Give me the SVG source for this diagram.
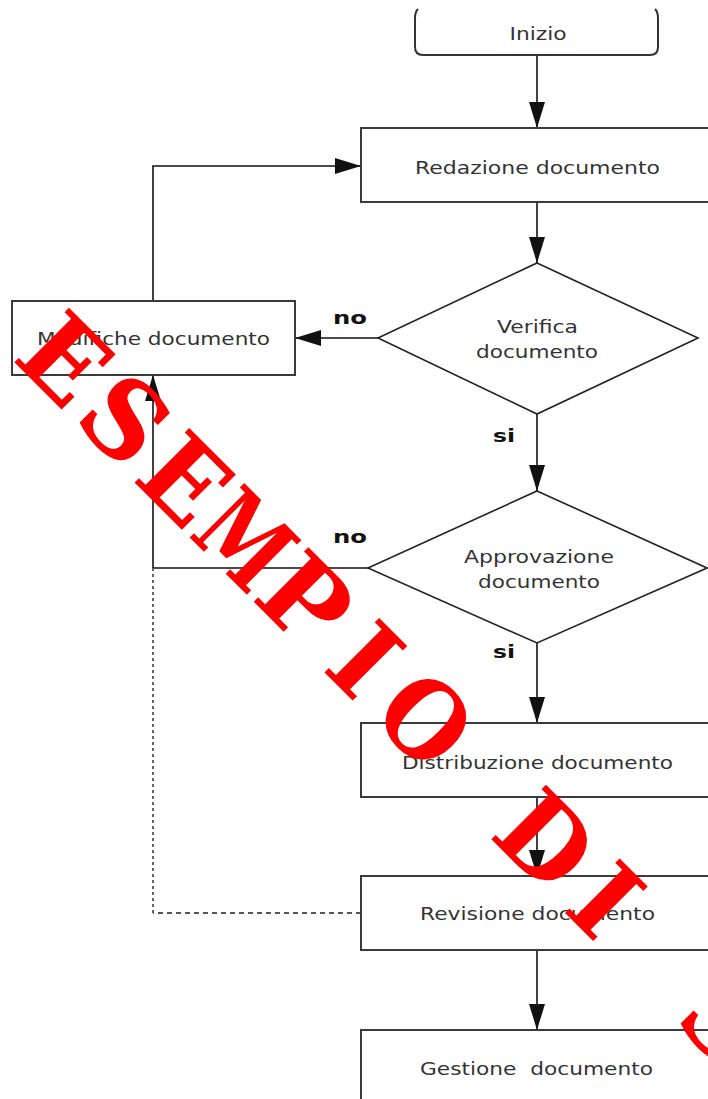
<svg xmlns="http://www.w3.org/2000/svg" width="708" height="1099" viewBox="0 0 708 1099">
<style>
.box{fill:#fff;stroke:#3a3a3a;stroke-width:2}
.dia{fill:#fff;stroke:#222;stroke-width:1.6}
.ln{fill:none;stroke:#111;stroke-width:1.6}
.dash{fill:none;stroke:#555;stroke-width:1.8}
.t{font-family:"DejaVu Sans",Verdana,sans-serif;font-size:17px;fill:#333;text-anchor:middle;white-space:pre}
.lb{font-family:"DejaVu Sans",Verdana,sans-serif;font-size:18px;font-weight:bold;fill:#111;text-anchor:middle}
.wm{font-family:"DejaVu Serif","Liberation Serif",serif;font-size:106px;font-weight:bold;fill:#ff0000;text-anchor:middle}
</style>
<defs>
<marker id="ah" markerUnits="userSpaceOnUse" viewBox="0 0 26 16" refX="26" refY="8" markerWidth="26" markerHeight="16" orient="auto">
<path d="M0,0 L26,8 L0,16 Z" fill="#111"/>
</marker>
</defs>
<rect width="708" height="1099" fill="#fff"/>

<g id="connectors">
<line class="ln" x1="537" y1="55" x2="537" y2="128" marker-end="url(#ah)"/>
<line class="ln" x1="537" y1="202" x2="537" y2="263" marker-end="url(#ah)"/>
<line class="ln" x1="378" y1="338" x2="295" y2="338" marker-end="url(#ah)"/>
<polyline class="ln" points="153,301 153,166 361,166" marker-end="url(#ah)"/>
<line class="ln" x1="537" y1="414" x2="537" y2="491" marker-end="url(#ah)"/>
<polyline class="ln" points="368,568 153,568 153,375" marker-end="url(#ah)"/>
<line class="ln" x1="537" y1="643" x2="537" y2="723" marker-end="url(#ah)"/>
<line class="ln" x1="537" y1="797" x2="537" y2="876" marker-end="url(#ah)"/>
<line class="ln" x1="537" y1="950" x2="537" y2="1030" marker-end="url(#ah)"/>
<line class="dash" x1="361" y1="913" x2="153" y2="913" stroke-dasharray="5 4"/>
<line class="dash" x1="153" y1="913" x2="153" y2="569" stroke-dasharray="3 3"/>
<text class="lb" x="350" y="324" textLength="34" lengthAdjust="spacingAndGlyphs">no</text>
<text class="lb" x="504" y="442" textLength="22" lengthAdjust="spacingAndGlyphs">si</text>
<text class="lb" x="350" y="543" textLength="34" lengthAdjust="spacingAndGlyphs">no</text>
<text class="lb" x="504" y="658" textLength="22" lengthAdjust="spacingAndGlyphs">si</text>
</g>

<g id="inizio">
<path class="ln" d="M418,9 Q415,12 415,18 L415,47 Q415,55 423,55 L650,55 Q658,55 658,47 L658,18 Q658,12 655,9" style="stroke:#333;stroke-width:2"/>
<text class="t" x="538" y="40" textLength="57" lengthAdjust="spacingAndGlyphs">Inizio</text>
</g>

<g id="redazione">
<rect class="box" x="361" y="128" width="360" height="74"/>
<text class="t" x="537.5" y="174" textLength="245" lengthAdjust="spacingAndGlyphs">Redazione documento</text>
</g>

<g id="verifica">
<polygon class="dia" points="537,263 698,338 537,414 378,338"/>
<text class="t" x="537.5" y="333" textLength="81" lengthAdjust="spacingAndGlyphs">Verifica</text>
<text class="t" x="537" y="358" textLength="122" lengthAdjust="spacingAndGlyphs">documento</text>
</g>

<g id="modifiche">
<rect class="box" x="12" y="301" width="283" height="74"/>
<text class="t" x="153.5" y="345" textLength="233" lengthAdjust="spacingAndGlyphs">Modifiche documento</text>
</g>

<g id="approvazione">
<polygon class="dia" points="537,491 707,568 537,643 368,568"/>
<text class="t" x="539" y="563" textLength="150" lengthAdjust="spacingAndGlyphs">Approvazione</text>
<text class="t" x="539" y="588" textLength="122" lengthAdjust="spacingAndGlyphs">documento</text>
</g>

<g id="distribuzione">
<rect class="box" x="361" y="723" width="360" height="74"/>
<text class="t" x="537.5" y="769" textLength="271" lengthAdjust="spacingAndGlyphs">Distribuzione documento</text>
</g>

<g id="revisione">
<rect class="box" x="361" y="876" width="360" height="74"/>
<text class="t" x="537.5" y="920" textLength="235" lengthAdjust="spacingAndGlyphs">Revisione documento</text>
</g>

<g id="gestione">
<rect class="box" x="361" y="1030" width="360" height="90"/>
<text class="t" x="536.5" y="1075" textLength="233" lengthAdjust="spacingAndGlyphs" xml:space="preserve">Gestione  documento</text>
</g>

<g id="watermark">
<text class="wm" transform="translate(38.1,386.1) rotate(45) scale(0.95,1)">E</text>
<text class="wm" transform="translate(98.2,446.2) rotate(45)">S</text>
<text class="wm" transform="translate(158.3,506.3) rotate(45) scale(0.95,1)">E</text>
<text class="wm" transform="translate(218.4,566.4) rotate(45) scale(0.75,1)">M</text>
<text class="wm" transform="translate(278.5,626.5) rotate(45)">P</text>
<text class="wm" transform="translate(338.6,686.6) rotate(45)">I</text>
<text class="wm" transform="translate(398.7,746.7) rotate(45) scale(0.9,1)">O</text>
<text class="wm" transform="translate(518.9,866.9) rotate(45) scale(0.95,1)">D</text>
<text class="wm" transform="translate(579,927) rotate(45)">I</text>
<text class="wm" transform="translate(699.2,1047.2) rotate(45)">S</text>
</g>
</svg>
